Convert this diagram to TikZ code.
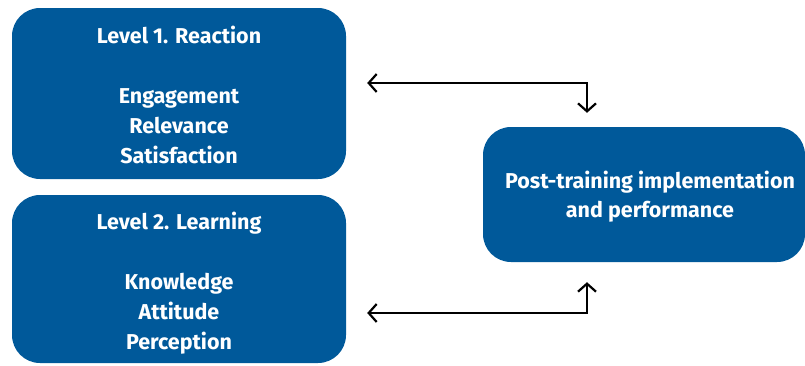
\documentclass[tikz,border=0pt]{standalone}
\usepackage{fontspec}
\setmainfont{Fira Sans}
\usetikzlibrary{arrows.meta,calc}
\definecolor{boxblue}{HTML}{00599A}
\begin{document}
\begin{tikzpicture}[x=1pt,y=-1pt,
  boxfill/.style={fill=boxblue, draw=none, rounded corners=28pt, inner sep=0pt},
  boxtext/.style={text=white, align=center, inner sep=0pt,
    font=\fontsize{21.5}{30}\selectfont\bfseries},
  conn/.style={draw=black, line width=2.2pt,
    {Straight Barb[length=8pt,width=18pt]}-{Straight Barb[length=8pt,width=18pt]}}]
\useasboundingbox (0,0) rectangle (805,365);
% the two evaluation levels and the outcome box
\node[boxfill, minimum width=334pt, minimum height=171pt] (b1) at (179,93.5) {};
\node[boxfill, minimum width=334pt, minimum height=168pt] (b2) at (179,279) {};
\node[boxfill, minimum width=322pt, minimum height=135pt] (b3) at (644,194.5) {};
\node[boxtext] (t1) at ($(b1.center)+(0,1.5)$)
  {Level 1. Reaction\\~\\Engagement\\Relevance\\Satisfaction};
\node[boxtext] (t2) at ($(b2.center)+(0,4.5)$)
  {Level 2. Learning\\~\\Knowledge\\Attitude\\Perception};
\node[boxtext, font=\fontsize{21.5}{29}\selectfont\bfseries] (t3)
  at ($(b3.center)+(6,2)$) {Post-training implementation\\and performance};
% two-way links between each level and the outcome
\draw[conn] ($(b1.east)+(21,-10.5)$) -| ($(b3.north)+(-57,-14)$);
\draw[conn] ($(b2.east)+(21,34)$) -| ($(b3.south)+(-57,20)$);
\end{tikzpicture}
\end{document}
